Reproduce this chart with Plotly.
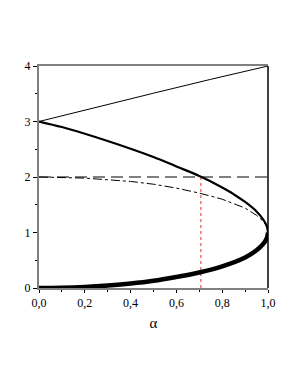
import plotly.graph_objects as go

# --- data ---
alpha_thin = [0.0, 0.25, 0.5, 0.75, 1.0]
y_thin = [3.0, 3.26, 3.51, 3.76, 4.0]

alpha_upper = [0.0, 0.1, 0.2, 0.3, 0.4, 0.5, 0.6, 0.7, 0.75, 0.8, 0.85, 0.9, 0.95, 0.98, 0.995, 1.0]
y_upper = [3.0, 2.9, 2.78, 2.65, 2.51, 2.36, 2.19, 2.02, 1.92, 1.81, 1.69, 1.55, 1.38, 1.23, 1.11, 1.0]

alpha_lower = [0.0, 0.1, 0.2, 0.3, 0.4, 0.5, 0.6, 0.7, 0.8, 0.9, 0.95, 0.98, 0.995, 1.0]
y_lower = [0.0, 0.005, 0.02, 0.045, 0.08, 0.13, 0.2, 0.28, 0.39, 0.55, 0.68, 0.8, 0.9, 1.0]

alpha_dd = [0.0, 0.1, 0.2, 0.3, 0.4, 0.5, 0.6, 0.7, 0.8, 0.9, 0.95, 0.98, 0.995, 1.0]
y_dd = [2.0, 1.995, 1.98, 1.95, 1.92, 1.87, 1.80, 1.71, 1.60, 1.44, 1.31, 1.2, 1.1, 1.0]

alpha_h = [0.0, 1.0]
y_h = [2.0, 2.0]

alpha_crit = [0.707, 0.707]
y_crit = [0.0, 2.0]

x_ticks = [0.0, 0.2, 0.4, 0.6, 0.8, 1.0]
x_ticklabels = ["0,0", "0,2", "0,4", "0,6", "0,8", "1,0"]
y_ticks = [0, 1, 2, 3, 4]

fig = go.Figure()
fig.add_trace(go.Scatter(x=alpha_h, y=y_h, mode="lines",
                         line=dict(color="#555555", width=1.5, dash="12px,6px")))
fig.add_trace(go.Scatter(x=alpha_dd, y=y_dd, mode="lines",
                         line=dict(color="black", width=1, dash="dashdot")))
fig.add_trace(go.Scatter(x=alpha_crit, y=y_crit, mode="lines",
                         line=dict(color="#e03030", width=1, dash="dot")))
fig.add_trace(go.Scatter(x=alpha_thin, y=y_thin, mode="lines",
                         line=dict(color="black", width=1)))
fig.add_trace(go.Scatter(x=alpha_upper, y=y_upper, mode="lines",
                         line=dict(color="black", width=2.2, shape="spline", smoothing=1)))
fig.add_trace(go.Scatter(x=alpha_lower, y=y_lower, mode="lines",
                         line=dict(color="black", width=4.5, shape="spline", smoothing=1)))

serif = "Times New Roman, Liberation Serif, DejaVu Serif, serif"
font = dict(family=serif, size=12, color="black")

fig.update_layout(
    width=298, height=385,
    margin=dict(l=31, r=38, t=58, b=105),
    plot_bgcolor="white", paper_bgcolor="white",
    showlegend=False,
    font=font,
    xaxis=dict(range=[0, 1], tickvals=x_ticks, ticktext=x_ticklabels,
               showgrid=False, zeroline=False,
               showline=True, linecolor="#808080", linewidth=2, mirror=True,
               ticks="outside", ticklen=3, tickcolor="black",
               minor=dict(dtick=0.1, ticks="outside", ticklen=2, tickcolor="black"),
               title=dict(text="α", font=dict(family=serif, size=15), standoff=8),
               tickfont=font),
    yaxis=dict(range=[0, 4], tickvals=y_ticks,
               showgrid=False, zeroline=False,
               showline=True, linecolor="#808080", linewidth=2,
               ticks="outside", ticklen=4, tickcolor="black",
               minor=dict(dtick=0.5, ticks="outside", ticklen=2, tickcolor="black"),
               tickfont=font),
    shapes=[dict(type="line", xref="paper", yref="paper", x0=1, x1=1, y0=0, y1=1,
                 line=dict(color="black", width=1.5))],
)

fig.write_html("out.html")
